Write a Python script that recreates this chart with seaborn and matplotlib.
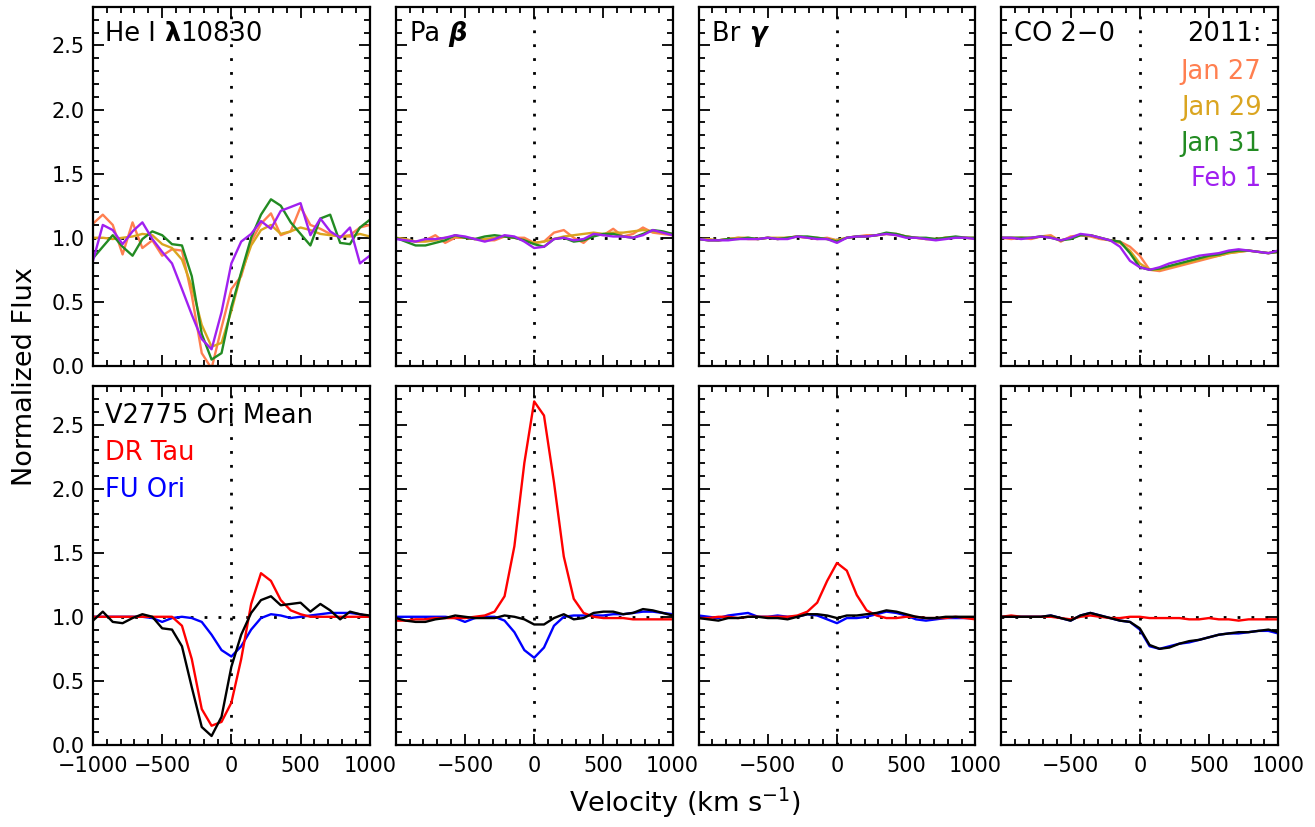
import matplotlib
matplotlib.use("Agg")
import matplotlib.pyplot as plt
import seaborn as sns
import numpy as np
from matplotlib.ticker import MultipleLocator, FixedLocator, FixedFormatter

# ---------------- data ----------------
velocity = [-1000, -929, -857, -786, -714, -643, -571, -500, -429, -357, -286, -214, -143, -71, 0,
            71, 143, 214, 286, 357, 429, 500, 571, 643, 714, 786, 857, 929, 1000]

dates = ["Jan 27", "Jan 29", "Jan 31", "Feb 1"]
date_colors = ["#FF7F50", "#DAA520", "#228B22", "#A020F0"]
ref_names = ["V2775 Ori Mean", "DR Tau", "FU Ori"]
ref_colors = ["black", "#FF0000", "#0000FF"]
line_names = ["HeI", "PaB", "BrG", "CO"]

# He I 10830 (top row)
he_jan27 = [1.11, 1.18, 1.10, 0.87, 1.12, 0.92, 0.98, 0.86, 0.91, 0.90, 0.55, 0.10, -0.02, 0.30, 0.60,
            0.70, 0.97, 1.11, 1.19, 1.02, 1.05, 1.24, 1.10, 1.07, 1.03, 1.01, 1.02, 1.08, 1.10]
he_jan29 = [1.00, 1.00, 0.99, 1.00, 1.01, 1.03, 1.02, 0.95, 0.92, 0.83, 0.62, 0.32, 0.15, 0.18, 0.43,
            0.72, 0.94, 1.06, 1.10, 1.03, 1.05, 1.08, 1.06, 1.03, 1.02, 1.01, 1.01, 1.03, 1.01]
he_jan31 = [0.84, 0.93, 1.02, 0.93, 0.86, 0.99, 1.05, 1.02, 0.95, 0.94, 0.70, 0.25, 0.05, 0.10, 0.46,
            0.73, 1.00, 1.18, 1.30, 1.25, 1.12, 1.03, 0.94, 1.15, 1.18, 0.96, 0.95, 1.08, 1.14]
he_feb1 = [0.82, 1.10, 1.06, 0.95, 1.05, 1.12, 0.99, 0.89, 0.80, 0.60, 0.40, 0.21, 0.13, 0.42, 0.80,
           0.97, 1.03, 1.13, 1.07, 1.21, 1.24, 1.27, 1.02, 1.15, 1.05, 1.00, 1.08, 0.80, 0.86]

# Pa beta (top row)
pa_jan27 = [1.00, 0.98, 0.97, 0.98, 1.02, 0.96, 1.00, 1.00, 0.99, 0.98, 0.98, 1.01, 1.00, 1.00, 0.96,
            0.97, 1.04, 1.06, 1.00, 0.96, 1.03, 1.02, 1.07, 1.01, 1.03, 1.08, 1.04, 1.03, 1.02]
pa_jan29 = [1.00, 0.99, 0.97, 0.97, 0.98, 1.00, 1.01, 1.00, 0.99, 0.99, 1.00, 1.01, 1.00, 0.98, 0.96,
            0.97, 0.99, 1.01, 1.02, 1.03, 1.04, 1.03, 1.04, 1.04, 1.05, 1.06, 1.05, 1.04, 1.03]
pa_jan31 = [1.00, 0.97, 0.94, 0.94, 0.96, 0.98, 1.02, 1.00, 0.99, 1.01, 1.02, 1.01, 1.00, 0.98, 0.95,
            0.93, 0.99, 1.00, 0.97, 0.98, 1.01, 1.03, 1.03, 1.01, 1.00, 1.03, 1.06, 1.05, 1.03]
pa_feb1 = [0.99, 0.98, 0.97, 0.99, 0.99, 1.00, 1.02, 1.01, 0.99, 0.97, 0.99, 1.02, 1.01, 0.97, 0.92,
           0.93, 0.99, 1.00, 0.98, 0.99, 1.03, 1.02, 1.01, 1.01, 1.00, 1.02, 1.06, 1.04, 1.02]

# Br gamma (top row)
br_jan27 = [0.99, 0.98, 0.98, 0.99, 1.00, 0.99, 0.99, 1.00, 0.99, 1.00, 1.01, 1.00, 0.99, 1.00, 0.98,
            1.00, 1.01, 1.02, 1.02, 1.03, 1.03, 1.01, 1.00, 0.99, 0.99, 1.00, 1.00, 1.00, 1.00]
br_jan29 = [0.99, 0.99, 0.98, 0.99, 1.00, 1.00, 0.99, 1.00, 1.00, 1.00, 1.01, 1.00, 1.00, 0.99, 0.98,
            1.00, 1.01, 1.01, 1.02, 1.03, 1.02, 1.01, 1.00, 0.99, 0.99, 1.00, 1.00, 1.00, 0.99]
br_jan31 = [0.99, 0.98, 0.98, 0.99, 0.99, 1.00, 0.99, 1.00, 0.99, 1.00, 1.01, 1.01, 1.00, 0.99, 0.97,
            1.00, 1.01, 1.01, 1.02, 1.04, 1.03, 1.01, 1.00, 1.00, 0.99, 1.00, 1.01, 1.00, 1.00]
br_feb1 = [0.99, 0.98, 0.98, 0.98, 0.99, 0.99, 0.99, 1.00, 0.99, 0.99, 1.01, 1.00, 0.99, 0.99, 0.96,
           1.00, 1.01, 1.01, 1.02, 1.03, 1.02, 1.00, 1.00, 0.99, 0.98, 0.99, 1.00, 1.00, 0.99]

# CO 2-0 (top row)
co_jan27 = [1.00, 0.99, 1.00, 0.99, 1.01, 1.02, 0.97, 1.01, 1.02, 1.01, 0.99, 0.98, 0.97, 0.93, 0.86,
            0.75, 0.74, 0.76, 0.78, 0.80, 0.82, 0.84, 0.86, 0.88, 0.89, 0.90, 0.89, 0.88, 0.89]
co_jan29 = [1.00, 1.00, 1.00, 1.00, 1.01, 1.01, 0.98, 1.00, 1.02, 1.02, 1.00, 0.98, 0.96, 0.90, 0.80,
            0.75, 0.75, 0.77, 0.79, 0.81, 0.83, 0.85, 0.86, 0.88, 0.89, 0.90, 0.89, 0.88, 0.89]
co_jan31 = [1.00, 1.00, 1.00, 1.00, 1.01, 1.00, 0.98, 0.99, 1.02, 1.02, 1.00, 0.98, 0.97, 0.88, 0.77,
            0.75, 0.76, 0.78, 0.80, 0.82, 0.84, 0.86, 0.87, 0.89, 0.90, 0.90, 0.89, 0.88, 0.89]
co_feb1 = [1.00, 1.00, 0.99, 1.00, 1.01, 1.00, 0.98, 1.00, 1.03, 1.02, 1.00, 0.98, 0.93, 0.82, 0.77,
           0.75, 0.77, 0.80, 0.82, 0.84, 0.86, 0.87, 0.88, 0.90, 0.91, 0.90, 0.89, 0.88, 0.90]

# Bottom row: V2775 Ori mean, DR Tau, FU Ori
he_mean = [0.97, 1.04, 0.96, 0.95, 0.99, 1.02, 1.00, 0.91, 0.90, 0.77, 0.45, 0.14, 0.07, 0.22, 0.61,
           0.86, 1.03, 1.13, 1.16, 1.09, 1.10, 1.11, 1.04, 1.10, 1.05, 0.98, 1.04, 1.02, 1.01]
he_drtau = [1.00, 1.00, 1.00, 1.00, 1.00, 1.00, 1.00, 1.00, 1.00, 0.93, 0.67, 0.28, 0.15, 0.18, 0.33,
            0.67, 1.10, 1.34, 1.28, 1.13, 1.05, 1.02, 1.00, 1.00, 1.00, 1.00, 1.00, 1.00, 1.00]
he_fuori = [1.00, 1.00, 1.00, 1.00, 1.00, 1.00, 0.99, 0.96, 0.99, 1.00, 0.99, 0.96, 0.86, 0.74, 0.69,
            0.77, 0.90, 0.99, 1.02, 1.01, 0.99, 1.00, 1.01, 1.02, 1.03, 1.03, 1.03, 1.02, 1.00]

pa_mean = [0.99, 0.97, 0.96, 0.96, 0.98, 0.99, 1.01, 1.00, 0.99, 0.99, 0.99, 1.01, 1.00, 0.98, 0.94,
           0.94, 0.99, 1.02, 0.98, 0.99, 1.03, 1.04, 1.04, 1.02, 1.03, 1.06, 1.05, 1.03, 1.01]
pa_drtau = [0.97, 0.97, 0.98, 0.98, 0.99, 0.99, 0.99, 0.99, 1.00, 1.01, 1.04, 1.16, 1.55, 2.20, 2.68,
            2.57, 2.05, 1.47, 1.14, 1.03, 1.00, 0.99, 0.99, 0.99, 0.98, 0.98, 0.98, 0.98, 0.98]
pa_fuori = [1.00, 1.00, 1.00, 1.00, 1.00, 1.00, 0.99, 0.96, 0.99, 1.00, 1.00, 0.97, 0.88, 0.74, 0.68,
            0.76, 0.93, 1.00, 1.01, 1.01, 1.01, 1.01, 1.02, 1.02, 1.03, 1.04, 1.04, 1.03, 1.02]

br_mean = [0.99, 0.98, 0.97, 0.99, 0.99, 1.00, 1.00, 0.99, 0.99, 0.98, 1.00, 1.02, 1.02, 1.01, 0.99,
           1.01, 1.01, 1.02, 1.03, 1.05, 1.04, 1.02, 1.00, 0.99, 0.99, 1.00, 1.00, 1.00, 1.00]
br_drtau = [0.99, 0.99, 1.00, 1.00, 0.99, 1.00, 1.00, 1.00, 1.00, 1.00, 1.01, 1.04, 1.11, 1.28, 1.42,
            1.36, 1.17, 1.05, 1.01, 0.99, 0.99, 1.00, 1.00, 0.99, 0.99, 0.99, 1.00, 0.99, 0.98]
br_fuori = [1.01, 1.00, 0.99, 1.01, 1.02, 1.03, 1.00, 1.00, 1.01, 1.00, 1.00, 1.02, 1.01, 0.98, 0.95,
            0.99, 0.99, 1.00, 1.02, 1.04, 1.03, 1.01, 0.98, 0.97, 0.98, 0.99, 0.99, 0.99, 0.99]

co_mean = [1.00, 1.00, 1.00, 1.00, 1.00, 1.01, 0.99, 0.97, 1.01, 1.03, 1.01, 0.99, 0.97, 0.96, 0.91,
           0.78, 0.75, 0.76, 0.79, 0.81, 0.82, 0.84, 0.86, 0.87, 0.88, 0.88, 0.89, 0.90, 0.88]
co_drtau = [1.00, 1.01, 1.00, 1.00, 1.00, 1.00, 0.99, 0.98, 1.00, 1.01, 1.00, 0.99, 0.99, 1.00, 1.00,
            0.99, 0.99, 0.99, 0.99, 0.98, 0.98, 0.99, 0.98, 0.98, 0.97, 0.98, 0.98, 0.98, 0.98]
co_fuori = [1.00, 1.00, 1.00, 1.00, 1.00, 1.01, 0.99, 0.97, 1.01, 1.03, 1.01, 0.99, 0.97, 0.96, 0.90,
            0.77, 0.75, 0.77, 0.79, 0.80, 0.82, 0.84, 0.86, 0.87, 0.87, 0.88, 0.89, 0.89, 0.87]

top_series = {
    "HeI": [he_jan27, he_jan29, he_jan31, he_feb1],
    "PaB": [pa_jan27, pa_jan29, pa_jan31, pa_feb1],
    "BrG": [br_jan27, br_jan29, br_jan31, br_feb1],
    "CO": [co_jan27, co_jan29, co_jan31, co_feb1],
}
bottom_series = {
    "HeI": [he_mean, he_drtau, he_fuori],
    "PaB": [pa_mean, pa_drtau, pa_fuori],
    "BrG": [br_mean, br_drtau, br_fuori],
    "CO": [co_mean, co_drtau, co_fuori],
}

# ---------------- figure ----------------
sns.set_style("ticks")
plt.rcParams["font.family"] = ["DejaVu Sans"]
plt.rcParams["mathtext.fontset"] = "dejavusans"
plt.rcParams["text.color"] = "black"
plt.rcParams["axes.labelcolor"] = "black"
plt.rcParams["xtick.color"] = "black"
plt.rcParams["ytick.color"] = "black"

fig = plt.figure(figsize=(13.15, 8.27), dpi=100)
axes = fig.subplots(2, 4)
fig.subplots_adjust(left=0.0707, right=0.972, top=0.9915, bottom=0.0992,
                    wspace=0.094, hspace=0.056)

LW = 1.7
TICK_FS = 15
ANN_FS = 18.5

for row in range(2):
    for col in range(4):
        ax = axes[row, col]
        name = line_names[col]
        if row == 0:
            for vals, c in zip(top_series[name], date_colors):
                sns.lineplot(x=velocity, y=vals, color=c, lw=LW, ax=ax,
                             estimator=None, sort=False, legend=False)
        else:
            for i in [2, 1, 0]:
                sns.lineplot(x=velocity, y=bottom_series[name][i], color=ref_colors[i], lw=LW,
                             ax=ax, estimator=None, sort=False, legend=False)
        ax.axhline(1.0, color="black", lw=2.0, ls=(0, (1, 4)), zorder=0.5)
        ax.axvline(0.0, color="black", lw=2.0, ls=(0, (1, 4)), zorder=0.5)
        ax.set_xlim(-1000, 1000)
        ax.set_ylim(0.0, 2.8)
        ax.xaxis.set_major_locator(FixedLocator([-1000, -500, 0, 500, 1000]))
        ax.xaxis.set_minor_locator(MultipleLocator(100))
        ax.yaxis.set_major_locator(FixedLocator([0.0, 0.5, 1.0, 1.5, 2.0, 2.5]))
        ax.yaxis.set_minor_locator(MultipleLocator(0.1))
        ax.tick_params(which="both", direction="in", top=True, right=True,
                       labelsize=TICK_FS, width=1.3, colors="black")
        ax.tick_params(which="major", length=8)
        ax.tick_params(which="minor", length=4)
        for sp in ax.spines.values():
            sp.set_linewidth(1.6)
            sp.set_color("black")
        ax.set_xlabel("")
        ax.set_ylabel("")
        if col == 0:
            ax.yaxis.set_major_formatter(FixedFormatter(["0.0", "0.5", "1.0", "1.5", "2.0", "2.5"]))
        else:
            ax.set_yticklabels([])
        if row == 0:
            ax.set_xticklabels([])
        else:
            if col == 0:
                ax.xaxis.set_major_formatter(FixedFormatter(["\u22121000", "\u2212500", "0", "500", "1000"]))
            else:
                ax.xaxis.set_major_formatter(FixedFormatter(["", "\u2212500", "0", "500", "1000"]))
            ax.tick_params(axis="x", pad=8)
        ax.tick_params(axis="y", pad=6)

# ---------------- annotations ----------------
def label_parts(ax, parts, x, y):
    t = ax.text(x, y, parts[0][0], transform=ax.transAxes, fontsize=ANN_FS,
                va="baseline", ha="left", color="black", **parts[0][1])
    prev = t
    for txt, kw in parts[1:]:
        prev = ax.annotate(txt, xy=(1, 0), xycoords=prev, va="bottom", ha="left",
                           fontsize=ANN_FS, color="black", **kw)
    return t

label_parts(axes[0, 0], [("He I ", {}), ("\u03bb", {"fontweight": "bold"}), ("10830", {})], 0.045, 0.905)
label_parts(axes[0, 1], [("Pa ", {}), ("\u03b2", {"fontweight": "bold", "fontstyle": "italic"})], 0.05, 0.905)
label_parts(axes[0, 2], [("Br ", {}), ("\u03b3", {"fontweight": "bold", "fontstyle": "italic"})], 0.05, 0.905)
axes[0, 3].text(0.045, 0.905, "CO 2\u22120", transform=axes[0, 3].transAxes, fontsize=ANN_FS,
                va="baseline", ha="left", color="black")

axes[0, 3].text(0.94, 0.905, "2011:", transform=axes[0, 3].transAxes, fontsize=ANN_FS,
                va="baseline", ha="right", color="black")
for i, (d, c) in enumerate(zip(dates, date_colors)):
    axes[0, 3].text(0.94, 0.800 - 0.1 * i, d, transform=axes[0, 3].transAxes, fontsize=ANN_FS,
                    va="baseline", ha="right", color=c)

for i, (n, c) in enumerate(zip(ref_names, ref_colors)):
    axes[1, 0].text(0.045, 0.898 - 0.104 * i, n, transform=axes[1, 0].transAxes, fontsize=ANN_FS,
                    va="baseline", ha="left", color=c)

fig.text(0.019, 0.545, "Normalized Flux", rotation=90, fontsize=19.5, ha="center", va="center",
         color="black")
fig.text(0.521, 0.029, "Velocity (km s$^{-1}$)", fontsize=19.5, ha="center", va="center",
         color="black")

fig.savefig("out.png", dpi=100)
